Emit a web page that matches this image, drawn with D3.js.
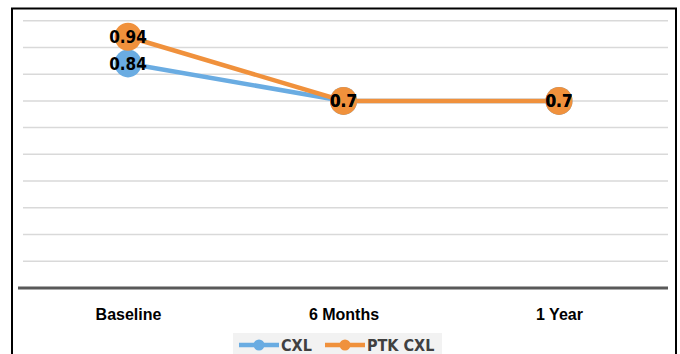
<!DOCTYPE html>
<html><head><meta charset="utf-8">
<script src="https://cdn.jsdelivr.net/npm/d3@7"></script>
<style>body{margin:0;background:#fff}svg{display:block}</style>
</head><body>
<script>
const categories = ["Baseline", "6 Months", "1 Year"];
const cxl = [0.84, 0.7, 0.7];
const ptkCxl = [0.94, 0.7, 0.7];
const seriesNames = ["CXL", "PTK CXL"];
const yTicks = [0.1,0.2,0.3,0.4,0.5,0.6,0.7,0.8,0.9,1.0];

const W = 680, H = 354;
const svg = d3.select("body").append("svg").attr("width", W).attr("height", H);
svg.append("path").attr("d", "M12,354 V8.5 H676 V354").attr("fill","none").attr("stroke","#000").attr("stroke-width",2);

const x = d3.scalePoint().domain(categories).range([128, 559]);
const y = d3.scaleLinear().domain([0, 1]).range([288, 20.7]);

const grid = svg.append("g");
grid.selectAll("line").data(yTicks).join("line")
  .attr("x1", 23).attr("x2", 668)
  .attr("y1", d => y(d)).attr("y2", d => y(d))
  .attr("stroke", "#d9d9d9").attr("stroke-width", 1.5);

svg.append("line").attr("x1", 18).attr("x2", 668).attr("y1", y(0)).attr("y2", y(0))
  .attr("stroke", "#595959").attr("stroke-width", 3);

const xAxis = d3.axisBottom(x).tickSize(0).tickPadding(0);
const gx = svg.append("g").attr("transform", `translate(0,${y(0)})`).call(xAxis);
gx.select(".domain").remove();
gx.selectAll("text").attr("dy", null).attr("y", 32)
  .style("font-family", "Liberation Sans, Arial, sans-serif")
  .style("font-size", "16px").style("font-weight", "bold").attr("fill", "#000");

const colors = ["#6aace2", "#f0913c"];
const data = [cxl, ptkCxl];
const line = d3.line().x((d, i) => x(categories[i])).y(d => y(d));
const condensed = "DejaVu Sans Condensed, DejaVu Sans, sans-serif";

data.forEach((vals, s) => {
  svg.append("path").datum(vals).attr("d", line)
    .attr("fill", "none").attr("stroke", colors[s]).attr("stroke-width", 4.5);
});
data.forEach((vals, s) => {
  svg.append("g").selectAll("ellipse").data(vals).join("ellipse")
    .attr("cx", (d, i) => x(categories[i])).attr("cy", d => y(d))
    .attr("rx", 13.5).attr("ry", 14).attr("fill", colors[s]);
});
data.forEach((vals, s) => {
  svg.append("g").selectAll("text").data(vals).join("text")
    .attr("x", (d, i) => x(categories[i])).attr("y", d => y(d))
    .attr("text-anchor", "middle").attr("dy", "0.36em")
    .style("font-family", condensed).style("font-stretch", "condensed")
    .style("font-size", "17px").style("font-weight", "bold").attr("fill", "#000")
    .text(d => d);
});

const lg = svg.append("g");
lg.append("rect").attr("x", 233).attr("y", 333).attr("width", 209).attr("height", 21).attr("fill", "#f2f2f2");
const legendX = [239, 325];
seriesNames.forEach((n, s) => {
  const g = lg.append("g").attr("transform", `translate(${legendX[s]},345)`);
  g.append("line").attr("x1", 0).attr("x2", 40).attr("stroke", colors[s]).attr("stroke-width", 4.5);
  g.append("circle").attr("cx", 20).attr("r", 5.5).attr("fill", colors[s]);
  g.append("text").attr("x", 42).attr("dy", "0.36em")
    .style("font-family", condensed).style("font-stretch", "condensed")
    .style("font-size", "16px").style("font-weight", "bold").attr("fill", "#404040")
    .text(n);
});
</script>
</body></html>
